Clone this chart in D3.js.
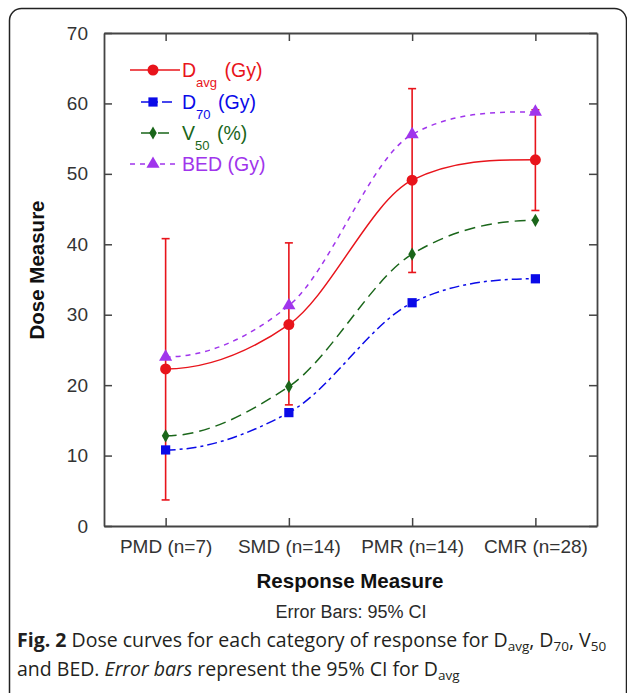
<!DOCTYPE html>
<html>
<head>
<meta charset="utf-8">
<script src="https://cdn.jsdelivr.net/npm/d3@7"></script>
<style>
  html, body { margin: 0; padding: 0; background: #fff; }
  svg { display: block; }
</style>
</head>
<body>
<svg id="chart" width="627" height="693"></svg>
<script>
// ---------- data ----------
const categories = ["PMD (n=7)", "SMD (n=14)", "PMR (n=14)", "CMR (n=28)"];
const davg = [22.3, 28.6, 49.1, 52.0];
const davgLow = [3.7, 17.2, 36.0, 44.8];
const davgHigh = [40.8, 40.2, 62.1, 59.1];
const d70 = [10.8, 16.1, 31.7, 35.1];
const v50 = [12.8, 19.8, 38.6, 43.4];
const bed = [24.0, 31.3, 55.6, 58.8];
const yTicks = [0, 10, 20, 30, 40, 50, 60, 70];

const colors = { davg: "#e8141b", d70: "#0a0ae8", v50: "#1a661a", bed: "#a035ec" };

(function () {
const svg = d3.select("#chart");
const pLeft = 104, pRight = 597, pTop = 33, pBottom = 526;

// outer rounded frame
svg.append("rect")
  .attr("x", 9.5).attr("y", 8.5)
  .attr("width", 617).attr("height", 705)
  .attr("rx", 12)
  .attr("fill", "none").attr("stroke", "#222").attr("stroke-width", 1.5);

const x = d3.scalePoint().domain(categories).range([pLeft, pRight]).padding(0.5);
const y = d3.scaleLinear().domain([0, 70]).range([pBottom, pTop]);

const axisFont = "'Liberation Sans', Arial, sans-serif";
const axisColor = "#444";

function styleAxis(g) {
  g.select(".domain").attr("stroke", axisColor).attr("stroke-width", 1.8);
  g.selectAll(".tick line").attr("stroke", axisColor).attr("stroke-width", 1.5);
  g.selectAll("text").attr("fill", "#333").attr("font-family", axisFont).attr("font-size", 19);
}

svg.append("g").attr("transform", `translate(${pLeft},0)`)
  .call(d3.axisLeft(y).tickValues(yTicks).tickSizeInner(-8).tickSizeOuter(0).tickPadding(16))
  .call(styleAxis);
svg.append("g").attr("transform", `translate(${pRight},0)`)
  .call(d3.axisRight(y).tickValues(yTicks).tickSizeInner(-8).tickSizeOuter(0).tickFormat(""))
  .call(styleAxis);
svg.append("g").attr("transform", `translate(0,${pBottom})`)
  .call(d3.axisBottom(x).tickSizeInner(-8).tickSizeOuter(0).tickPadding(14))
  .call(styleAxis);
svg.append("g").attr("transform", `translate(0,${pTop})`)
  .call(d3.axisTop(x).tickSizeInner(-8).tickSizeOuter(0).tickFormat(""))
  .call(styleAxis);

// axis titles
svg.append("text")
  .attr("transform", `translate(44,270) rotate(-90)`)
  .attr("text-anchor", "middle")
  .attr("font-family", axisFont).attr("font-weight", "bold").attr("font-size", 20.5)
  .attr("fill", "#111")
  .text("Dose Measure");
svg.append("text")
  .attr("x", 350).attr("y", 588)
  .attr("text-anchor", "middle")
  .attr("font-family", axisFont).attr("font-weight", "bold").attr("font-size", 20.5)
  .attr("fill", "#111")
  .text("Response Measure");
svg.append("text")
  .attr("x", 351).attr("y", 618)
  .attr("text-anchor", "middle")
  .attr("font-family", axisFont).attr("font-size", 18)
  .attr("fill", "#2a2a2a")
  .text("Error Bars: 95% CI");

// smooth curve: cubic Hermite, limited centred tangents inside, flat tangents at the ends
function curveFlatEnds(context) {
  let xs = [], ys = [];
  return {
    areaStart() {}, areaEnd() {},
    lineStart() { xs = []; ys = []; },
    point(px, py) { xs.push(+px); ys.push(+py); },
    lineEnd() {
      const n = xs.length;
      if (!n) return;
      const m = xs.map((_, i) => {
        if (i === 0 || i === n - 1) return 0;
        const s0 = (ys[i] - ys[i - 1]) / (xs[i] - xs[i - 1]);
        const s1 = (ys[i + 1] - ys[i]) / (xs[i + 1] - xs[i]);
        if (s0 * s1 <= 0) return 0;
        const c = 0.9 * (ys[i + 1] - ys[i - 1]) / (xs[i + 1] - xs[i - 1]);
        return Math.sign(c) * Math.min(Math.abs(c), 3 * Math.min(Math.abs(s0), Math.abs(s1)));
      });
      context.moveTo(xs[0], ys[0]);
      for (let i = 0; i < n - 1; i++) {
        const h = xs[i + 1] - xs[i];
        context.bezierCurveTo(xs[i] + h / 3, ys[i] + m[i] * h / 3,
          xs[i + 1] - h / 3, ys[i + 1] - m[i + 1] * h / 3, xs[i + 1], ys[i + 1]);
      }
    }
  };
}

// series
const series = [
  { key: "bed", values: bed, dash: "5,5", marker: d3.symbolTriangle, size: 75 },
  { key: "v50", values: v50, dash: "11,6", marker: d3.symbolDiamond, size: 50 },
  { key: "d70", values: d70, dash: "10,4,3,4", marker: d3.symbolSquare, size: 85 },
  { key: "davg", values: davg, dash: null, marker: d3.symbolCircle, size: 95 }
];

const line = d3.line()
  .x((d, i) => x(categories[i]))
  .y(d => y(d))
  .curve(curveFlatEnds);

series.forEach(s => {
  svg.append("path")
    .datum(s.values)
    .attr("d", line)
    .attr("fill", "none")
    .attr("stroke", colors[s.key])
    .attr("stroke-width", 1.5)
    .attr("stroke-dasharray", s.dash);
});

// error bars for Davg
const eb = svg.append("g").attr("stroke", colors.davg).attr("stroke-width", 1.6);
categories.forEach((c, i) => {
  const cx = x(c);
  eb.append("line").attr("x1", cx).attr("x2", cx).attr("y1", y(davgLow[i])).attr("y2", y(davgHigh[i]));
  eb.append("line").attr("x1", cx - 4).attr("x2", cx + 4).attr("y1", y(davgLow[i])).attr("y2", y(davgLow[i]));
  eb.append("line").attr("x1", cx - 4).attr("x2", cx + 4).attr("y1", y(davgHigh[i])).attr("y2", y(davgHigh[i]));
});

// markers
series.forEach(s => {
  svg.append("g").selectAll("path")
    .data(s.values)
    .join("path")
    .attr("transform", (d, i) => `translate(${x(categories[i])},${y(d)})`)
    .attr("d", d3.symbol().type(s.marker).size(s.size))
    .attr("fill", colors[s.key]);
});

// legend
const legendItems = [
  { key: "davg", main: "D", sub: "avg", rest: " (Gy)", y: 70, x1: 130, x2: 180, dash: null, marker: d3.symbolCircle, size: 95 },
  { key: "d70", main: "D", sub: "70", rest: " (Gy)", y: 102, x1: 141, x2: 175, dash: "10,4,3,4", marker: d3.symbolSquare, size: 85 },
  { key: "v50", main: "V", sub: "50", rest: " (%)", y: 133, x1: 141, x2: 175, dash: "11,6", marker: d3.symbolDiamond, size: 50 },
  { key: "bed", main: "BED (Gy)", sub: "", rest: "", y: 164, x1: 130, x2: 178, dash: "5,5", marker: d3.symbolTriangle, size: 75 }
];
legendItems.forEach(it => {
  const g = svg.append("g");
  g.append("line")
    .attr("x1", it.x1).attr("x2", it.x2).attr("y1", it.y).attr("y2", it.y)
    .attr("stroke", colors[it.key]).attr("stroke-width", 1.5)
    .attr("stroke-dasharray", it.dash);
  g.append("path")
    .attr("transform", `translate(153,${it.y})`)
    .attr("d", d3.symbol().type(it.marker).size(it.size))
    .attr("fill", colors[it.key]);
  const t = g.append("text")
    .attr("x", 182).attr("y", it.y + 7)
    .attr("font-family", axisFont).attr("font-size", 19.5)
    .attr("fill", colors[it.key]);
  t.append("tspan").text(it.main);
  if (it.sub) {
    t.append("tspan").attr("dy", 10).attr("font-size", 13).text(it.sub);
    t.append("tspan").attr("dy", -10).attr("dx", 2).text(it.rest);
  }
});

// caption
const capFont = "'Open Sans', 'Noto Sans', sans-serif";
const cap1 = svg.append("text")
  .attr("x", 17).attr("y", 647)
  .attr("font-family", capFont).attr("font-size", 19.5).attr("fill", "#231f20");
cap1.append("tspan").attr("font-weight", "bold").text("Fig. 2");
cap1.append("tspan").text(" Dose curves for each category of response for D");
cap1.append("tspan").attr("dy", 4).attr("font-size", 13.5).text("avg");
cap1.append("tspan").attr("dy", -4).text(", D");
cap1.append("tspan").attr("dy", 4).attr("font-size", 13.5).text("70");
cap1.append("tspan").attr("dy", -4).text(", V");
cap1.append("tspan").attr("dy", 4).attr("font-size", 13.5).text("50");

const cap2 = svg.append("text")
  .attr("x", 17).attr("y", 676)
  .attr("font-family", capFont).attr("font-size", 19.5).attr("fill", "#231f20");
cap2.append("tspan").text("and BED. ");
cap2.append("tspan").attr("font-style", "italic").text("Error bars");
cap2.append("tspan").text(" represent the 95% CI for D");
cap2.append("tspan").attr("dy", 4).attr("font-size", 13.5).text("avg");
})();
</script>
</body>
</html>
